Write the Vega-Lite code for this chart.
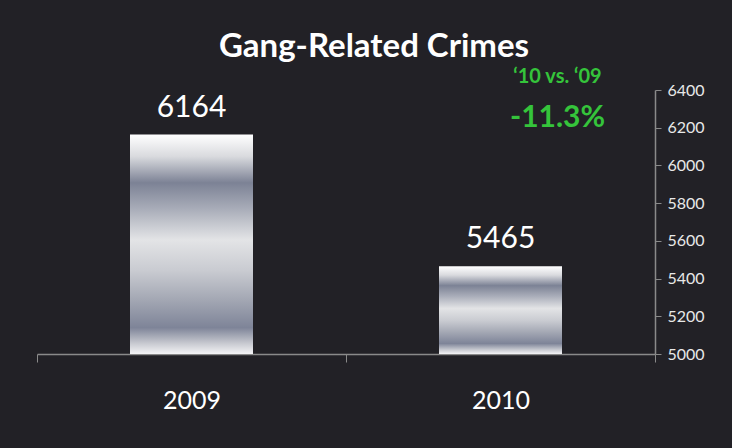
{
  "$schema": "https://vega.github.io/schema/vega-lite/v6.json",
  "autosize": {"type": "none"},
  "width": 618,
  "height": 264,
  "padding": {"left": 37, "top": 90, "right": 77, "bottom": 94},
  "background": "#222126",
  "config": {"view": {"stroke": null}, "font": "Lato"},
  "title": {
    "text": "Gang-Related Crimes",
    "color": "#ffffff",
    "fontSize": 33,
    "fontWeight": "bold",
    "font": "Lato",
    "anchor": "middle",
    "dx": 28,
    "offset": 3
  },
  "datasets": {
    "bars": [
      {"year": "2009", "crimes": 6164},
      {"year": "2010", "crimes": 5465}
    ],
    "notes": [
      {"year": "2010", "crimes": 6470, "label": "‘10 vs. ‘09", "kind": "small"},
      {"year": "2010", "crimes": 6250, "label": "-11.3%", "kind": "big"}
    ]
  },
  "encoding": {
    "x": {
      "field": "year",
      "type": "nominal",
      "scale": {"paddingInner": 0, "paddingOuter": 0},
      "axis": {
        "title": null,
        "labelAngle": 0,
        "labelColor": "#ffffff",
        "labelFontSize": 25,
        "labelPadding": 26,
        "domainColor": "#8a8a8a",
        "domainWidth": 1.5,
        "tickColor": "#8a8a8a",
        "tickSize": 8,
        "tickBand": "extent"
      }
    },
    "y": {
      "field": "crimes",
      "type": "quantitative",
      "scale": {"domain": [5000, 6400], "zero": false, "nice": false},
      "axis": {
        "orient": "right",
        "title": null,
        "format": "d",
        "labelOverlap": false,
        "values": [5000, 5200, 5400, 5600, 5800, 6000, 6200, 6400],
        "labelColor": "#e8e8e8",
        "labelFontSize": 16,
        "labelPadding": 6,
        "domainColor": "#8a8a8a",
        "domainWidth": 1.5,
        "tickColor": "#8a8a8a",
        "tickSize": 6,
        "grid": false
      }
    }
  },
  "layer": [
    {
      "data": {"name": "bars"},
      "mark": {
        "type": "bar",
        "size": 123,
        "color": {
          "gradient": "linear",
          "x1": 0, "y1": 0, "x2": 0, "y2": 1,
          "stops": [
            {"offset": 0, "color": "#ffffff"},
            {"offset": 0.1, "color": "#d9dade"},
            {"offset": 0.22, "color": "#7c8295"},
            {"offset": 0.34, "color": "#a9adb9"},
            {"offset": 0.48, "color": "#e3e4e6"},
            {"offset": 0.62, "color": "#c9cbd1"},
            {"offset": 0.75, "color": "#a4a8b4"},
            {"offset": 0.88, "color": "#7e8498"},
            {"offset": 0.95, "color": "#c6c8cf"},
            {"offset": 1, "color": "#f4f4f6"}
          ]
        }
      },
      "encoding": {
        "y2": {"datum": 5000}
      }
    },
    {
      "data": {"name": "bars"},
      "mark": {"type": "text", "baseline": "bottom", "dy": -12, "fontSize": 30, "color": "#ffffff"},
      "encoding": {
        "text": {"field": "crimes", "type": "quantitative", "format": "d"}
      }
    },
    {
      "data": {"name": "notes"},
      "transform": [{"filter": "datum.kind === 'small'"}],
      "mark": {"type": "text", "dx": 57, "fontSize": 20, "fontWeight": "bold", "color": "#35c43b", "clip": false},
      "encoding": {
        "text": {"field": "label"}
      }
    },
    {
      "data": {"name": "notes"},
      "transform": [{"filter": "datum.kind === 'big'"}],
      "mark": {"type": "text", "dx": 57, "fontSize": 30, "fontWeight": "bold", "color": "#35c43b", "clip": false},
      "encoding": {
        "text": {"field": "label"}
      }
    }
  ]
}
